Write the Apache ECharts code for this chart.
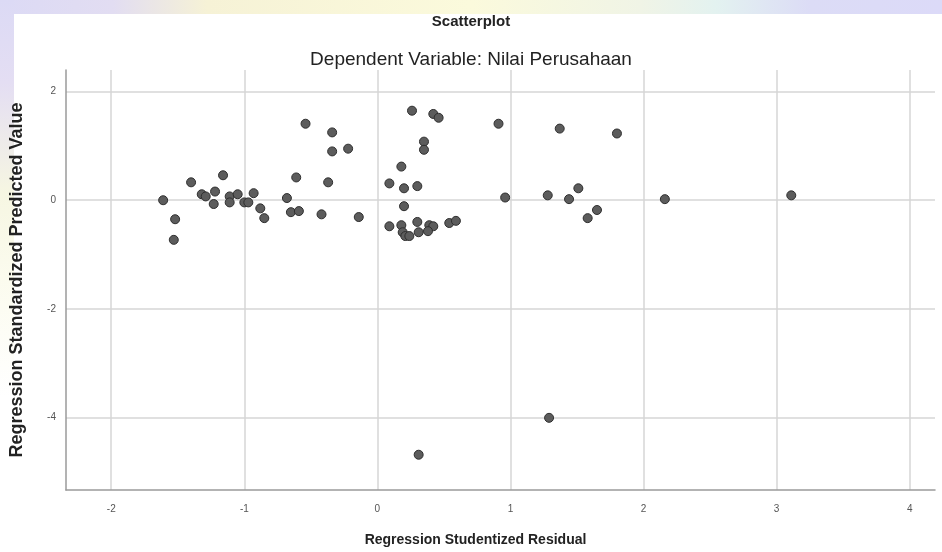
<!DOCTYPE html>
<html>
<head>
<meta charset="utf-8">
<script src="https://cdn.jsdelivr.net/npm/echarts@6/dist/echarts.min.js"></script>
<style>
html,body{margin:0;padding:0;width:942px;height:552px;overflow:hidden;}
#bgTop{position:absolute;left:0;top:0;width:942px;height:14px;
 background:linear-gradient(90deg,#dcdaf5 0%,#e2ddf2 12%,#f6f2d6 22%,#fbfadc 50%,#f0f4e6 68%,#e3f2f0 76%,#dcdcf6 86%,#dcdaf8 100%);}
#bgLeft{position:absolute;left:0;top:0;width:14px;height:552px;
 background:linear-gradient(180deg,#dcdaf5 0%,#e4def3 15%,#f6f6e2 35%,#fbfbee 50%,#ffffff 72%);}
#white{position:absolute;left:14px;top:14px;width:928px;height:538px;background:#fff;}
#chart{position:absolute;left:0;top:0;width:942px;height:552px;}
</style>
</head>
<body>
<div id="bgTop"></div><div id="bgLeft"></div><div id="white"></div>
<div id="chart"></div>
<script>
// Regression Studentized Residual (x) and Regression Standardized Predicted Value (y)
const residuals = [
  -1.61,-1.52,-1.53,-1.40,-1.16,-1.32,-1.29,-1.22,-1.23,-1.11,-1.11,-1.05,-1.00,-0.97,-0.93,-0.88,-0.85,
  -0.68,-0.65,-0.59,-0.61,-0.54,-0.34,-0.34,-0.22,-0.37,-0.42,-0.14,
  0.26,0.42,0.46,0.35,0.35,0.18,0.09,0.20,0.30,0.20,0.09,0.18,0.19,0.21,0.24,0.30,0.31,0.39,0.42,0.38,0.54,0.59,
  0.91,0.96,1.37,1.80,1.28,1.44,1.51,1.65,1.58,
  2.16,3.11,
  1.29,0.31
];
const predicted = [
  0.00,-0.35,-0.73,0.33,0.46,0.11,0.07,0.16,-0.07,0.07,-0.04,0.11,-0.04,-0.04,0.13,-0.15,-0.33,
  0.04,-0.22,-0.20,0.42,1.41,1.25,0.90,0.95,0.33,-0.26,-0.31,
  1.65,1.59,1.52,1.08,0.93,0.62,0.31,0.22,0.26,-0.11,-0.48,-0.46,-0.59,-0.66,-0.66,-0.40,-0.59,-0.46,-0.48,-0.57,-0.42,-0.38,
  1.41,0.05,1.32,1.23,0.09,0.02,0.22,-0.18,-0.33,
  0.02,0.09,
  -4.01,-4.69
];
const titleText = 'Scatterplot';
const subtitleText = 'Dependent Variable: Nilai Perusahaan';
const xName = 'Regression Studentized Residual';
const yName = 'Regression Standardized Predicted Value';

const points = residuals.map((x, i) => [x, predicted[i]]);
const chart = echarts.init(document.getElementById('chart'), null, {renderer: 'canvas'});
const font = 'Liberation Sans, Arial, sans-serif';
chart.setOption({
  backgroundColor: 'transparent',
  animation: false,
  title: [
    {text: titleText, left: 'center', top: 9, textStyle: {fontFamily: font, fontSize: 15, fontWeight: 'bold', color: '#222'}},
    {text: subtitleText, left: 'center', top: 45, textStyle: {fontFamily: font, fontSize: 19, fontWeight: 'normal', color: '#222'}}
  ],
  grid: {left: 65, top: 70, right: 7, bottom: 60, containLabel: false},
  xAxis: {
    type: 'value', min: -2.34, max: 4.19,
    name: xName, nameLocation: 'middle', nameGap: 43,
    nameTextStyle: {fontFamily: font, fontSize: 14, fontWeight: 'bold', color: '#222', padding: [0, 50, 0, 0]},
    axisLine: {show: true, onZero: false, lineStyle: {color: '#9a9a9a', width: 1.5}},
    axisTick: {show: false},
    axisLabel: {showMinLabel: false, showMaxLabel: false, fontFamily: font, fontSize: 10, color: '#555', margin: 14},
    splitLine: {show: true, lineStyle: {color: ['transparent','#d6d6d6','#d6d6d6','#d6d6d6','#d6d6d6','#d6d6d6','#d6d6d6','#d6d6d6','transparent'], width: 1.5}}
  },
  yAxis: {
    type: 'value', min: -5.34, max: 2.4,
    name: yName, nameLocation: 'middle', nameGap: 40,
    nameTextStyle: {fontFamily: font, fontSize: 18, fontWeight: 'bold', color: '#222'},
    axisLine: {show: true, onZero: false, lineStyle: {color: '#9a9a9a', width: 1.5}},
    axisTick: {show: false},
    axisLabel: {showMinLabel: false, showMaxLabel: false, fontFamily: font, fontSize: 10, color: '#555', margin: 10},
    splitLine: {show: true, lineStyle: {color: ['transparent','#d6d6d6','#d6d6d6','#d6d6d6','#d6d6d6','transparent'], width: 1.5}}
  },
  series: [{
    type: 'scatter',
    data: points,
    symbol: 'circle',
    symbolSize: 9,
    itemStyle: {color: '#5c5c5c', borderColor: '#2e2e2e', borderWidth: 1, opacity: 1}
  }]
});
</script>
</body>
</html>
